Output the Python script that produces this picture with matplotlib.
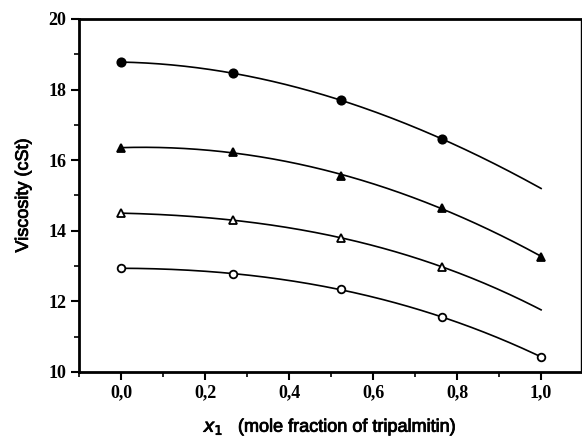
import numpy as np
import matplotlib
matplotlib.use("Agg")
import matplotlib.pyplot as plt
import matplotlib.patheffects as pe
from matplotlib.ticker import MultipleLocator, FixedLocator

# mole fraction of tripalmitin
x_pts = [0.0, 0.267, 0.524, 0.764, 1.0]

# viscosity series (cSt); None = no marker measured at that composition
s_filled_circle = [18.78, 18.46, 17.70, 16.60, None]
s_filled_tri = [16.35, 16.23, 15.56, 14.65, 13.27]
s_open_tri = [14.50, 14.30, 13.80, 12.98, None]
s_open_circle = [12.94, 12.78, 12.34, 11.55, 10.43]

# end values of the fitted curves at x = 1.0 (where no marker is drawn)
curve_end = {"filled_circle": 15.20, "open_tri": 11.76}

xtick_vals = [0.0, 0.2, 0.4, 0.6, 0.8, 1.0]
xtick_labels = ["0,0", "0,2", "0,4", "0,6", "0,8", "1,0"]
ytick_vals = [10, 12, 14, 16, 18, 20]

fig = plt.figure(figsize=(5.82, 4.43), dpi=100)
ax = fig.add_axes([79/582, 1 - 372/443, (581-79)/582, (372-19)/443])

series = [
    (s_filled_circle, "o", "black", 6.0, curve_end["filled_circle"]),
    (s_filled_tri, "^", "black", 6.0, None),
    (s_open_tri, "^", "white", 6.0, curve_end["open_tri"]),
    (s_open_circle, "o", "white", 5.5, None),
]

for vals, mk, fc, ms, end in series:
    xs = [x for x, v in zip(x_pts, vals) if v is not None]
    ys = [v for v in vals if v is not None]
    fx = list(xs)
    fy = list(ys)
    if end is not None:
        fx.append(1.0)
        fy.append(end)
    coef = np.polyfit(fx, fy, 3)
    xx = np.linspace(0, 1.0, 200)
    ax.plot(xx, np.polyval(coef, xx), color="black", lw=1.2, zorder=2)
    ax.plot(xs, ys, linestyle="none", marker=mk, markersize=ms,
            markerfacecolor=fc, markeredgecolor="black", markeredgewidth=1.3,
            zorder=3)

ax.set_xlim(-0.1, 1.095)
ax.set_ylim(10, 20)

ax.xaxis.set_major_locator(FixedLocator(xtick_vals))
ax.set_xticklabels(xtick_labels)
ax.xaxis.set_minor_locator(MultipleLocator(0.1))
ax.yaxis.set_major_locator(FixedLocator(ytick_vals))
ax.yaxis.set_minor_locator(MultipleLocator(1))

for lab in ax.get_xticklabels() + ax.get_yticklabels():
    lab.set_fontfamily("Liberation Serif")
    lab.set_fontweight("bold")
    lab.set_fontsize(13)

ax.tick_params(which="major", direction="out", length=6, width=1.5, pad=3)
ax.tick_params(which="minor", direction="out", length=3.5, width=1.2)
ax.tick_params(axis="x", which="both", top=False)
ax.tick_params(axis="y", which="both", right=False)

for side in ["left", "bottom", "top"]:
    ax.spines[side].set_linewidth(2.0)
ax.spines["right"].set_linewidth(1.0)

thick = [pe.withStroke(linewidth=0.6, foreground="black")]
ax.set_ylabel("Viscosity (cSt)", fontfamily="Liberation Sans", fontsize=13,
              fontweight="normal", labelpad=12, path_effects=thick)
ax.set_xlabel(r"$x_1$   (mole fraction of tripalmitin)", fontfamily="Liberation Sans",
              fontsize=13, fontweight="normal", labelpad=11, path_effects=thick)

fig.savefig("out.png", dpi=100)
